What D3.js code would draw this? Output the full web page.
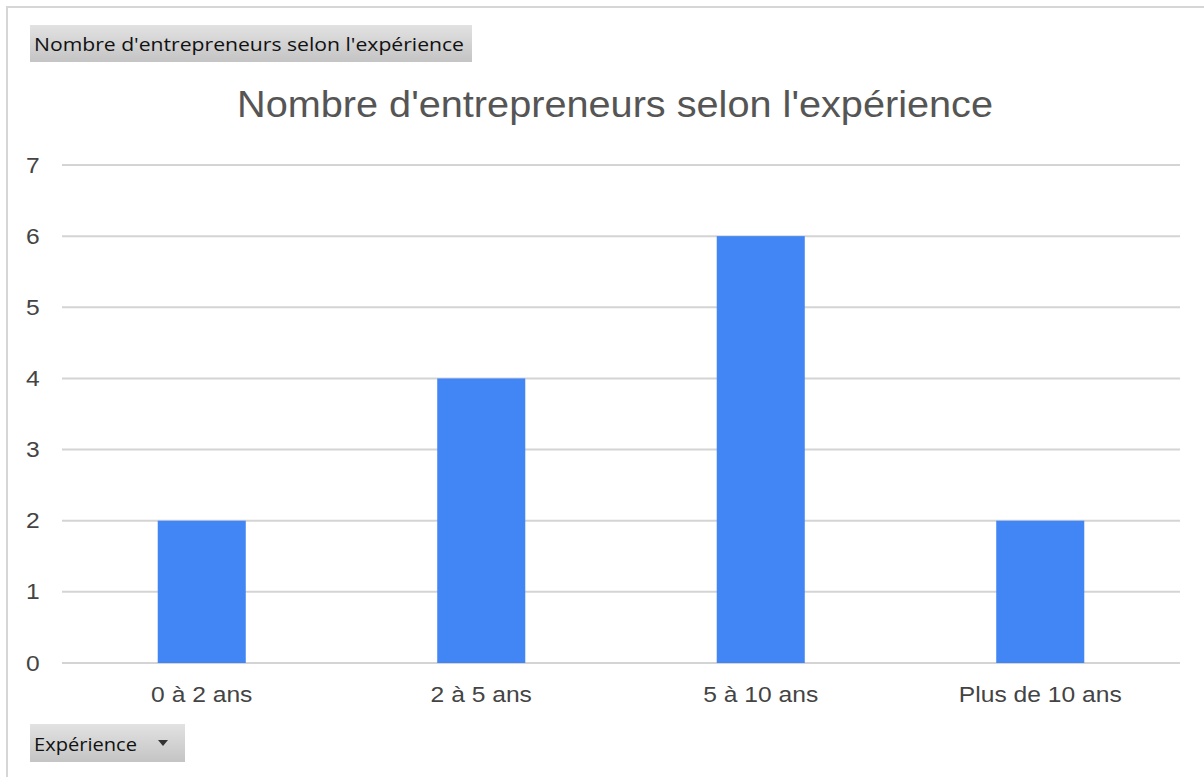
<!DOCTYPE html>
<html>
<head>
<meta charset="utf-8">
<script src="https://cdn.jsdelivr.net/npm/d3@7"></script>
<style>
  body { margin: 0; background: #fff; }
  svg { display: block; }
</style>
</head>
<body>
<div id="chart"></div>
<script>
// data
var categories = ["0 à 2 ans", "2 à 5 ans", "5 à 10 ans", "Plus de 10 ans"];
var values = [2, 4, 6, 2];
var yTicks = [0, 1, 2, 3, 4, 5, 6, 7];
var chartTitle = "Nombre d'entrepreneurs selon l'expérience";
var fieldButton = "Expérience";

var W = 1204, H = 777;
var margin = {top: 165, right: 24, bottom: 114, left: 62};
var width = W - margin.left - margin.right,
    height = H - margin.top - margin.bottom;
var stretch = "scale(1.12,1)"; // the source picture is a bit wider than tall

var svg = d3.select("#chart").append("svg")
    .attr("width", W)
    .attr("height", H);

// gradient for the pivot buttons
var defs = svg.append("defs");
var grad = defs.append("linearGradient").attr("id", "btnGrad")
    .attr("x1", 0).attr("y1", 0).attr("x2", 0).attr("y2", 1);
grad.append("stop").attr("offset", "0%").attr("stop-color", "#e2e2e2");
grad.append("stop").attr("offset", "100%").attr("stop-color", "#c4c4c4");

// outer frame
svg.append("line").attr("x1", 6).attr("x2", W).attr("y1", 7).attr("y2", 7)
    .attr("stroke", "#d6d6d6").attr("stroke-width", 2);
svg.append("line").attr("x1", 7).attr("x2", 7).attr("y1", 7).attr("y2", H)
    .attr("stroke", "#d6d6d6").attr("stroke-width", 2);

// top button
svg.append("rect").attr("x", 30).attr("y", 25).attr("width", 442).attr("height", 37)
    .attr("fill", "url(#btnGrad)");
svg.append("text").attr("x", 34).attr("y", 51)
    .attr("font-family", "'Liberation Sans Narrow', 'Open Sans', sans-serif")
    .attr("font-size", 18).attr("fill", "#111")
    .attr("textLength", 430).attr("lengthAdjust", "spacingAndGlyphs")
    .text(chartTitle);

// bottom button
svg.append("rect").attr("x", 30).attr("y", 724).attr("width", 155).attr("height", 38)
    .attr("fill", "url(#btnGrad)");
svg.append("text").attr("x", 34).attr("y", 751)
    .attr("font-family", "'Liberation Sans Narrow', 'Open Sans', sans-serif")
    .attr("font-size", 19).attr("fill", "#111")
    .attr("textLength", 103).attr("lengthAdjust", "spacingAndGlyphs")
    .text(fieldButton);
svg.append("path").attr("d", "M158,740 L168,740 L163,746 Z").attr("fill", "#333");

// chart title
svg.append("text")
    .attr("x", 615).attr("y", 117)
    .attr("text-anchor", "middle")
    .attr("font-family", "Arial, 'Liberation Sans', sans-serif")
    .attr("font-size", 37).attr("fill", "#555")
    .attr("textLength", 756).attr("lengthAdjust", "spacingAndGlyphs")
    .text(chartTitle);

var g = svg.append("g").attr("transform", "translate(" + margin.left + "," + margin.top + ")");

var x = d3.scaleBand()
    .domain(categories)
    .range([0, width])
    .paddingInner(0.685)
    .paddingOuter(0.3425);

var y = d3.scaleLinear()
    .domain([0, 7])
    .range([height, 0]);

// gridlines
g.append("g").selectAll("line")
    .data(yTicks)
    .enter().append("line")
    .attr("x1", 0).attr("x2", width)
    .attr("y1", function(d) { return y(d); })
    .attr("y2", function(d) { return y(d); })
    .attr("stroke", "#d4d4d4").attr("stroke-width", 2);

// y axis labels
var yAxis = d3.axisLeft(y).tickValues(yTicks).tickFormat(d3.format("d")).tickSize(0).tickPadding(20);
var yAxisGroup = g.append("g").call(yAxis);
yAxisGroup.select(".domain").remove();
yAxisGroup.selectAll("text")
    .attr("font-family", "Arial, 'Liberation Sans', sans-serif")
    .attr("font-size", 22).attr("fill", "#444")
    .attr("transform", stretch);

// bars
g.selectAll(".bar")
    .data(values)
    .enter().append("rect")
    .attr("class", "bar")
    .attr("x", function(d, i) { return x(categories[i]); })
    .attr("width", x.bandwidth())
    .attr("y", function(d) { return y(d); })
    .attr("height", function(d) { return height - y(d); })
    .attr("fill", "#4285f4");

// x axis labels
var xAxis = d3.axisBottom(x).tickSize(0).tickPadding(23);
var xAxisGroup = g.append("g").attr("transform", "translate(0," + height + ")").call(xAxis);
xAxisGroup.select(".domain").remove();
xAxisGroup.selectAll("text")
    .attr("font-family", "Arial, 'Liberation Sans', sans-serif")
    .attr("font-size", 22).attr("fill", "#444")
    .attr("transform", stretch);
</script>
</body>
</html>
